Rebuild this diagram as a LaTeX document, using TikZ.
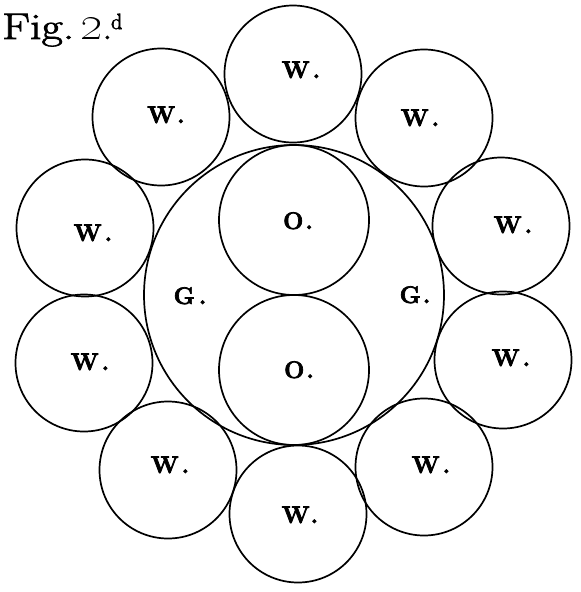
\documentclass[tikz,border=0pt]{standalone}
\newcommand{\heavy}[1]{\special{pdf:literal direct 2 Tr 0.7 w}#1\special{pdf:literal direct 0 Tr}}
\begin{document}
\begin{tikzpicture}[x=1pt,y=-1pt,
  ring/.style={draw, circle, line width=1.7pt, inner sep=0pt, minimum size=#1},
  wring/.style={ring=137pt},
  lab/.style={anchor=base, inner sep=0pt, font=\fontsize{24}{24}\selectfont\bfseries},
  figlab/.style={anchor=base west, inner sep=0pt, font=\fontsize{37}{40}\selectfont}]
\useasboundingbox (0,0) rectangle (581,592);
% central circles
\node[ring=300pt] (G) at (294,295) {};
\node[ring=150pt] (O1) at (294,220) {};
\node[ring=150pt] (O2) at (294,370) {};
% outer ring of W circles
\node[wring] (W1) at (293,74) {};
\node[wring] (W2) at (424,118) {};
\node[wring] (W3) at (501,226) {};
\node[wring] (W4) at (503,360) {};
\node[wring] (W5) at (424,467) {};
\node[wring] (W6) at (298,514) {};
\node[wring] (W7) at (168,470) {};
\node[wring] (W8) at (84,363) {};
\node[wring] (W9) at (85,228) {};
\node[wring] (W10) at (161,117) {};
% labels
\node[lab] (l1) at (301,78) {\heavy{W\kern3pt.}};
\node[lab] (l2) at (420,126) {\heavy{W\kern3pt.}};
\node[lab] (l3) at (513,233) {\heavy{W\kern3pt.}};
\node[lab] (l4) at (511,366) {\heavy{W\kern3pt.}};
\node[lab] (l5) at (431,473) {\heavy{W\kern3pt.}};
\node[lab] (l6) at (300,523) {\heavy{W\kern1pt.}};
\node[lab] (l7) at (170,473) {\heavy{W\kern3pt.}};
\node[lab] (l8) at (90,370) {\heavy{W\kern3pt.}};
\node[lab] (l9) at (93,241) {\heavy{W\kern3pt.}};
\node[lab] (l10) at (166,123) {\heavy{W\kern2pt.}};
\node[lab] (lo1) at (298,229) {\heavy{O\kern2pt.}};
\node[lab] (lo2) at (299,378) {\heavy{O\kern2pt.}};
\node[lab] (lg1) at (190,304) {\heavy{G\kern4pt.}};
\node[lab] (lg2) at (415,303) {\heavy{G\kern2pt.}};
% title
\node[figlab] (fig) at (2,39) {\heavy{\scalebox{1.25}[1]{Fig.}}\kern6pt\scalebox{1.4}{\oldstylenums{2}}\heavy{.}\kern-1pt\raisebox{10pt}{\fontsize{22}{22}\selectfont\heavy{d}}};
\end{tikzpicture}
\end{document}
